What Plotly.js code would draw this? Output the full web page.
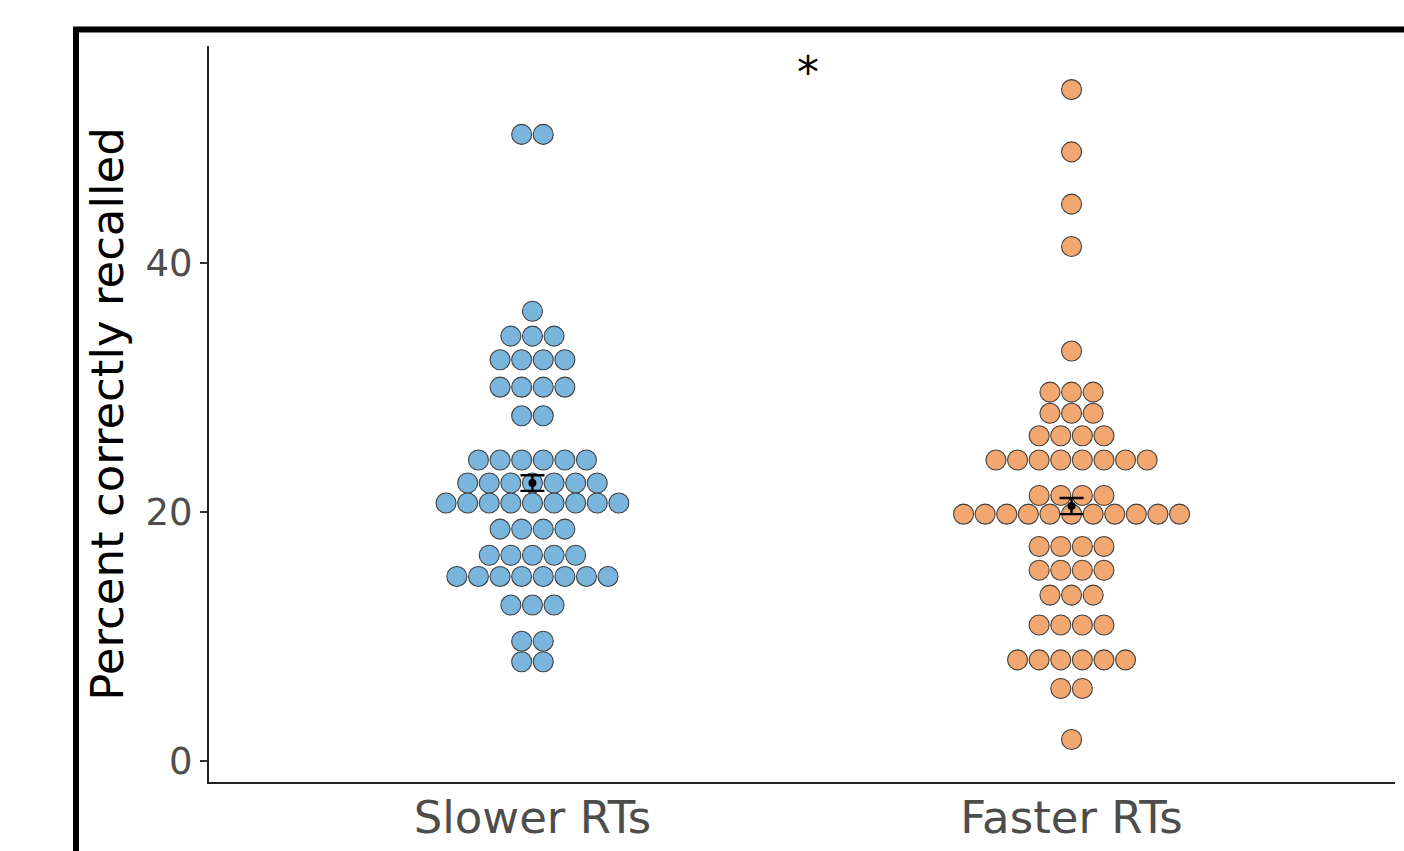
<!DOCTYPE html>
<html>
<head>
<meta charset="utf-8">
<script src="https://cdn.plot.ly/plotly-3.0.1.min.js"></script>
<style>
  html, body { margin: 0; padding: 0; background: #ffffff; }
  #chart { width: 1404px; height: 851px; }
</style>
</head>
<body>
<div id="chart"></div>
<script>
// ---- Data ----
const groupLabels = ['Slower RTs', 'Faster RTs'];
const groupPositions = [1, 2];

// Dot-plot bins: value of each stack and the number of dots in it
const slowerLevels = [50.3, 36.1, 34.1, 32.2, 30.0, 27.7, 24.15, 22.3, 20.7, 18.6, 16.5, 14.8, 12.5, 9.6, 7.95];
const slowerCounts = [2, 1, 3, 4, 4, 2, 6, 7, 9, 4, 5, 8, 3, 2, 2];

const fasterLevels = [53.9, 48.9, 44.7, 41.3, 32.9, 29.6, 27.9, 26.1, 24.15, 21.3, 19.8, 17.2, 15.3, 13.3, 10.9, 8.1, 5.8, 1.7];
const fasterCounts = [1, 1, 1, 1, 1, 3, 3, 4, 8, 4, 11, 4, 4, 3, 4, 6, 2, 1];

// Mean and standard error shown with the error bars
const groupMeans = [22.3, 20.45];
const groupSE = [0.63, 0.65];

const yTickValues = [0, 20, 40];
const significanceLabel = '*';

// ---- Layout helpers ----
const W = 1404, H = 851;
const margin = { l: 209, r: 9, t: 46, b: 69 };
const xRange = [0.4, 2.6];
const yRange = [-1.71, 57.4];
const plotW = W - margin.l - margin.r;
const plotH = H - margin.t - margin.b;
const pxPerX = plotW / (xRange[1] - xRange[0]);
const dotSpacingPx = 21.6;
const dx = dotSpacingPx / pxPerX;

function buildStacks(levels, counts, center) {
  const xs = [], ys = [];
  levels.forEach((v, k) => {
    const n = counts[k];
    for (let i = 0; i < n; i++) {
      xs.push(center + (i - (n - 1) / 2) * dx);
      ys.push(v);
    }
  });
  return { xs, ys };
}

const slower = buildStacks(slowerLevels, slowerCounts, groupPositions[0]);
const faster = buildStacks(fasterLevels, fasterCounts, groupPositions[1]);

const dotLine = { color: '#404040', width: 1.1 };

const traces = [
  {
    type: 'scatter', mode: 'markers',
    x: slower.xs, y: slower.ys,
    marker: { size: 20, color: '#7AB5DD', line: dotLine },
    hoverinfo: 'skip', showlegend: false
  },
  {
    type: 'scatter', mode: 'markers',
    x: faster.xs, y: faster.ys,
    marker: { size: 20, color: '#F3A770', line: dotLine },
    hoverinfo: 'skip', showlegend: false
  },
  {
    type: 'scatter', mode: 'markers',
    x: groupPositions, y: groupMeans,
    marker: { size: 8, color: '#000000' },
    error_y: { type: 'data', array: groupSE, visible: true, width: 12, thickness: 2.4, color: '#000000' },
    hoverinfo: 'skip', showlegend: false
  }
];

// frame position (pixels -> paper)
const frameLeftPx = 76, frameTopPx = 29.5;
const frameX0 = (frameLeftPx - margin.l) / plotW;
const frameY1 = (H - margin.b - frameTopPx) / plotH;

const layout = {
  width: W, height: H,
  margin: margin,
  paper_bgcolor: '#ffffff',
  plot_bgcolor: '#ffffff',
  font: { family: 'DejaVu Sans, sans-serif', color: '#4D4D4D' },
  showlegend: false,
  xaxis: {
    range: xRange,
    tickmode: 'array',
    tickvals: groupPositions,
    ticktext: groupLabels,
    showgrid: false, zeroline: false,
    showline: true, linecolor: '#222222', linewidth: 2,
    ticks: '',
    ticklabelstandoff: -5,
    tickfont: { family: 'DejaVu Sans', size: 45, color: '#4D4D4D' },
    fixedrange: true
  },
  yaxis: {
    range: yRange,
    tickmode: 'array',
    tickvals: yTickValues,
    showgrid: false, zeroline: false,
    showline: true, linecolor: '#222222', linewidth: 2,
    ticks: 'outside', ticklen: 7, tickwidth: 2, tickcolor: '#333333',
    tickfont: { family: 'DejaVu Sans', size: 37, color: '#4D4D4D' },
    title: { text: 'Percent correctly recalled', font: { family: 'DejaVu Sans', size: 45, color: '#000000' }, standoff: 8 },
    fixedrange: true
  },
  annotations: [
    {
      xref: 'x', yref: 'y', x: 1.511, y: 55.3,
      text: significanceLabel, showarrow: false,
      font: { family: 'DejaVu Sans', size: 44, color: '#000000' },
      xanchor: 'center', yanchor: 'middle'
    }
  ],
  shapes: [
    {
      type: 'rect', xref: 'paper', yref: 'paper',
      x0: frameX0, x1: 1.5, y0: -0.5, y1: frameY1,
      line: { color: '#000000', width: 6 },
      fillcolor: 'rgba(0,0,0,0)', layer: 'above'
    }
  ]
};

Plotly.newPlot('chart', traces, layout, { staticPlot: true, displayModeBar: false });
</script>
</body>
</html>
